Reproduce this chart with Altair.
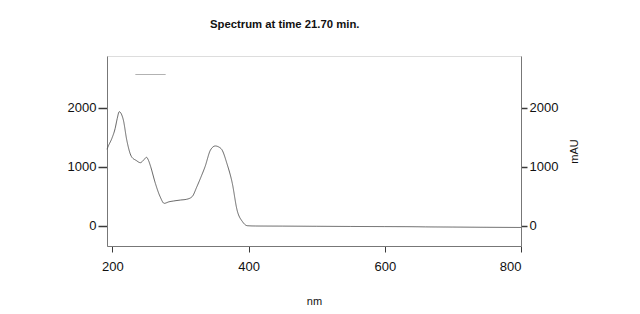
import altair as alt
import pandas as pd

wavelength = [192, 194, 199, 204, 207, 210, 213, 216, 221, 228, 235, 241, 246, 250, 253, 256, 263, 270, 276, 283,
              290, 300, 309, 317, 324, 330, 336, 344, 351, 356, 361, 368, 376, 383, 391, 398, 410, 450, 500, 550,
              600, 640, 660, 700, 750, 800]
mau = [1300, 1356, 1480, 1655, 1820, 1937, 1900, 1797, 1458, 1175, 1110, 1073, 1120, 1164, 1110, 1010, 724, 497, 384, 410,
       424, 440, 453, 497, 666, 830, 1005, 1288, 1356, 1340, 1288, 1063, 724, 271, 73, 5, 0, -2, -5, -8,
       -10, -12, -15, -18, -22, -25]

x_ticks = [200, 400, 600, 800]
y_ticks = [0, 1000, 2000]

df = pd.DataFrame({"nm": wavelength, "mAU": mau, "series": ["" for _ in wavelength]})

ink = "#3a3a3a"
font = "Liberation Sans"

x_enc = alt.X("nm:Q", scale=alt.Scale(domain=[192, 800], nice=False, zero=False),
              axis=alt.Axis(values=x_ticks, format="d", title="nm", grid=False, tickSize=6, tickColor=ink,
                            domainColor="#777", labelFontSize=13, labelColor="#111", labelFont=font,
                            labelPadding=8, titleFont=font, titleFontSize=11, titleFontWeight="normal",
                            titleColor="#111", titlePadding=22, offset=0))
y_scale = alt.Scale(domain=[-339, 2881], nice=False, zero=False)

base = alt.Chart(df)

left = base.mark_line(color="#555", strokeWidth=0.9, interpolate="monotone").encode(
    x=x_enc,
    y=alt.Y("mAU:Q", scale=y_scale,
            axis=alt.Axis(orient="left", values=y_ticks, format="d", title=None, grid=False, tickSize=9,
                          tickWidth=1.5, tickColor=ink, domainColor="#777", labelFontSize=13,
                          labelColor="#111", labelFont=font, labelPadding=2)),
    strokeDash=alt.StrokeDash("series:N", legend=alt.Legend(
        orient="none", legendX=28, legendY=3, title=None, labelOpacity=0,
        symbolType="stroke", symbolSize=900, symbolStrokeColor="#999", symbolStrokeWidth=1)),
)

right = base.mark_line(opacity=0).encode(
    x=x_enc,
    y=alt.Y("mAU:Q", scale=y_scale,
            axis=alt.Axis(orient="right", values=y_ticks, format="d", title="mAU", grid=False, tickSize=6,
                          tickWidth=1.5, tickColor=ink, domainColor="#777", labelFontSize=13,
                          labelColor="#111", labelFont=font, labelPadding=2, titleAngle=270, titleFont=font,
                          titleFontSize=11, titleFontWeight="normal", titleColor="#111", titlePadding=22)),
)

chart = alt.layer(left, right).resolve_axis(y="independent").properties(
    width=414, height=190,
    title=alt.TitleParams("Spectrum at time 21.70 min.", anchor="start", frame="group", dx=103,
                          fontSize=11.3, font=font, fontWeight="bold", color="#111", offset=26),
    autosize=alt.AutoSizeParams(type="none"),
    padding={"left": 107, "top": 56, "right": 119, "bottom": 68},
).configure_view(stroke="#888", strokeWidth=1).configure(background="white")

chart.save("out.html", embed_options={"renderer": "svg", "actions": False})
